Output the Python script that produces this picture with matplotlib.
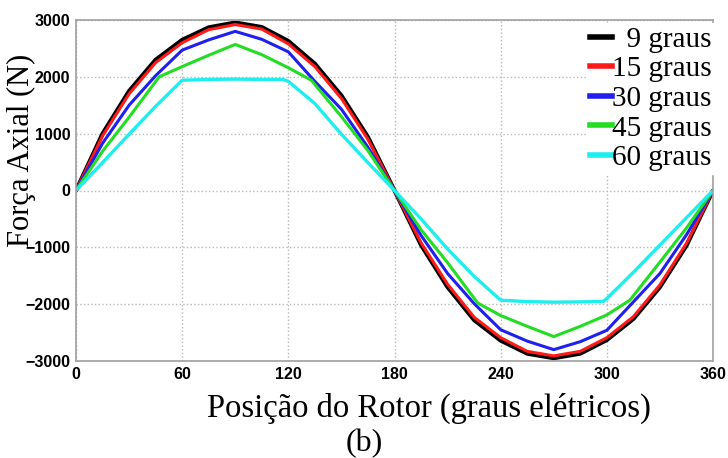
import matplotlib
matplotlib.use("Agg")
import matplotlib.pyplot as plt
from matplotlib.lines import Line2D

# Rotor position (electrical degrees) and axial force (N) for each skew angle
pos_15 = [0, 15, 30, 45, 60, 75, 90, 105, 120, 135, 150, 165, 180,
          195, 210, 225, 240, 255, 270, 285, 300, 315, 330, 345, 360]

force_9 = [0, 1000, 1750, 2300, 2650, 2870, 2955, 2875, 2630, 2230, 1670, 940, 0,
           -960, -1700, -2280, -2640, -2870, -2950, -2870, -2630, -2260, -1700, -970, 0]
force_15 = [0, 960, 1700, 2250, 2600, 2830, 2920, 2840, 2580, 2180, 1620, 900, 0,
            -920, -1650, -2230, -2590, -2830, -2910, -2830, -2590, -2220, -1660, -930, 0]
force_30 = [0, 830, 1500, 2020, 2470, 2650, 2800, 2660, 2440, 1920, 1430, 760, 0,
            -790, -1460, -1990, -2450, -2650, -2800, -2660, -2460, -1960, -1460, -780, 0]

pos_45 = [0, 15, 30, 47, 60, 75, 90, 105, 120, 133, 150, 165, 180,
          195, 210, 227, 240, 255, 270, 285, 300, 313, 330, 345, 360]
force_45 = [0, 690, 1290, 2000, 2180, 2380, 2570, 2390, 2160, 1940, 1300, 700, 0,
            -690, -1270, -1980, -2200, -2390, -2570, -2390, -2190, -1930, -1260, -660, 0]

pos_60 = [0, 15, 30, 45, 60, 75, 90, 105, 117, 120, 135, 150, 165, 180,
          195, 210, 225, 240, 255, 270, 285, 298, 300, 315, 330, 345, 360]
force_60 = [0, 490, 990, 1480, 1940, 1955, 1960, 1955, 1955, 1920, 1530, 990, 490, 0,
            -500, -1030, -1510, -1930, -1955, -1965, -1960, -1950, -1900, -1440, -960, -480, 0]

series = [
    (pos_15, force_9, "#000000", 3.0, "  9 graus"),
    (pos_15, force_15, "#ff1a1a", 2.2, "15 graus"),
    (pos_15, force_30, "#1f1fee", 2.2, "30 graus"),
    (pos_45, force_45, "#22dd22", 2.2, "45 graus"),
    (pos_60, force_60, "#1eeeee", 2.4, "60 graus"),
]

x_ticks = [0, 60, 120, 180, 240, 300, 360]
y_ticks = [-3000, -2000, -1000, 0, 1000, 2000, 3000]

fig = plt.figure(figsize=(7.28, 4.58), dpi=100)
ax = fig.add_axes([76 / 728, 97 / 458, 637 / 728, 341 / 458])

for x, y, color, lw, _ in series:
    ax.plot(x, y, color=color, lw=lw, solid_joinstyle="round", solid_capstyle="round")

ax.set_xlim(0, 360)
ax.set_ylim(-3000, 3000)
ax.set_xticks(x_ticks)
ax.set_yticks(y_ticks)
ax.grid(True, color="#b8b8b8", linestyle=":", linewidth=1.0)
ax.set_axisbelow(True)
for spine in ax.spines.values():
    spine.set_color("#a0a0a0")
    spine.set_linewidth(1.2)

ax.tick_params(axis="both", length=0, labelsize=11.5, pad=4)
for lab in ax.get_xticklabels() + ax.get_yticklabels():
    lab.set_fontfamily("Liberation Sans")
    lab.set_fontweight("bold")

handles = [Line2D([0], [0], color=c, lw=4.0) for _, _, c, _, _ in series]
labels = [s[4] for s in series]
leg = ax.legend(handles, labels, loc="upper right", bbox_to_anchor=(1.003, 0.99),
                prop={"family": "Liberation Serif", "size": 21},
                handlelength=0.75, handletextpad=0.0, labelspacing=0.11,
                borderpad=0.1, borderaxespad=0.0, frameon=True, fancybox=False,
                framealpha=1.0, facecolor="white", edgecolor="white")

serif = "Liberation Serif"
fig.text(21 / 728, 1 - 150 / 458, "Força Axial (N)", rotation=90, ha="center",
         va="center", fontsize=22, family=serif)
fig.text(429 / 728, 1 - 417 / 458, "Posição do Rotor (graus elétricos)", ha="center",
         va="baseline", fontsize=23.5, family=serif)
fig.text(364 / 728, 1 - 451 / 458, "(b)", ha="center", va="baseline",
         fontsize=23, family=serif)

fig.savefig("out.png", dpi=100, facecolor="white")
